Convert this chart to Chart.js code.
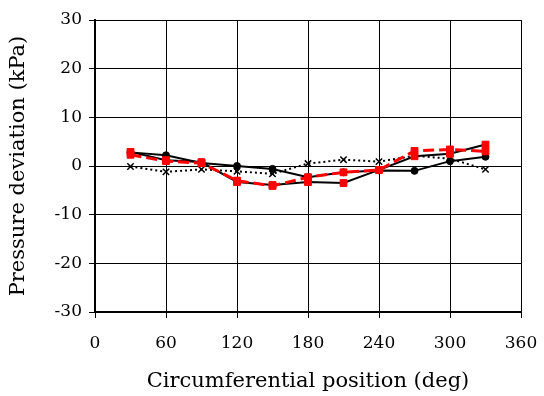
<!DOCTYPE html>
<html>
<head>
<meta charset="utf-8">
<script src="https://cdn.jsdelivr.net/npm/chart.js@4/dist/chart.umd.min.js"></script>
<style>
  html, body { margin: 0; padding: 0; background: #ffffff; }
  #wrap { width: 544px; height: 396px; }
</style>
</head>
<body>
<div id="wrap"><canvas id="c" width="544" height="396"></canvas></div>
<script>
// Circumferential measurement positions (deg)
const positions = [30, 60, 90, 120, 150, 180, 210, 240, 270, 300, 330];

// Pressure deviation (kPa) per case
const caseCircle = [2.8, 2.2, 0.6, 0.0, -0.6, -2.3, -1.3, -0.9, -1.0, 1.0, 1.9];
const caseCross  = [-0.1, -1.2, -0.7, -1.1, -1.6, 0.5, 1.3, 0.9, 2.1, 1.5, -0.7];
const caseRedDash = [2.3, 1.0, 0.6, -3.0, -4.1, -2.3, -1.3, -0.8, 3.1, 3.4, 3.0];
const caseRedSolid = [2.9, 1.2, 0.8, -3.3, -3.9, -3.3, -3.5, -0.8, 2.0, 2.5, 4.4];

// Axis tick values
const xTicks = [0, 60, 120, 180, 240, 300, 360];
const yTicks = [-30, -20, -10, 0, 10, 20, 30];

const pts = ys => positions.map((x, i) => ({ x: x, y: ys[i] }));

const serif = '"DejaVu Serif", "Liberation Serif", serif';

new Chart(document.getElementById('c'), {
  type: 'scatter',
  data: {
    datasets: [
      {
        data: pts(caseRedDash),
        showLine: true,
        borderColor: '#ff0000',
        borderWidth: 3,
        borderDash: [11, 5],
        pointStyle: 'rect',
        pointRadius: 4.8,
        pointBackgroundColor: '#ff0000',
        pointBorderColor: '#ff0000',
        pointBorderWidth: 1
      },
      {
        data: pts(caseRedSolid),
        showLine: true,
        borderColor: '#000000',
        borderWidth: 2,
        pointStyle: 'rect',
        pointRadius: 4.8,
        pointBackgroundColor: '#ff0000',
        pointBorderColor: '#ff0000',
        pointBorderWidth: 1
      },
      {
        data: pts(caseCircle),
        showLine: true,
        borderColor: '#000000',
        borderWidth: 2,
        pointStyle: 'circle',
        pointRadius: 3.5,
        pointBackgroundColor: '#000000',
        pointBorderColor: '#000000',
        pointBorderWidth: 1
      },
      {
        data: pts(caseCross),
        showLine: true,
        borderColor: '#000000',
        borderWidth: 2,
        borderDash: [2, 3],
        pointStyle: 'crossRot',
        pointRadius: 4.5,
        pointBackgroundColor: '#000000',
        pointBorderColor: '#000000',
        pointBorderWidth: 1.5
      }
    ]
  },
  options: {
    responsive: false,
    animation: false,
    layout: { padding: { top: 20, right: 23, bottom: 0, left: 0 } },
    plugins: { legend: { display: false }, tooltip: { enabled: false } },
    scales: {
      x: {
        type: 'linear',
        min: 0, max: 360,
        afterBuildTicks: s => { s.ticks = xTicks.map(v => ({ value: v })); },
        afterFit: s => { s.height = 84; s.paddingLeft = 0; s.paddingRight = 0; },
        ticks: {
          color: '#000000',
          font: { family: serif, size: 17 },
          padding: 15
        },
        grid: {
          color: '#000000',
          lineWidth: 1,
          tickLength: 6,
          drawTicks: true
        },
        border: { color: '#000000', width: 2 },
        title: {
          display: true,
          text: 'Circumferential position (deg)',
          color: '#000000',
          font: { family: serif, size: 21 },
          padding: { top: 0, bottom: 2 }
        }
      },
      y: {
        type: 'linear',
        min: -30, max: 30,
        afterBuildTicks: s => { s.ticks = yTicks.map(v => ({ value: v })); },
        afterFit: s => { s.width = 95; s.paddingTop = 0; s.paddingBottom = 0; },
        ticks: {
          color: '#000000',
          font: { family: serif, size: 17 },
          padding: 7
        },
        grid: {
          color: '#000000',
          lineWidth: 1,
          tickLength: 6,
          drawTicks: true
        },
        border: { color: '#000000', width: 2 },
        title: {
          display: true,
          text: 'Pressure deviation (kPa)',
          color: '#000000',
          font: { family: serif, size: 21 },
          padding: { top: 6, bottom: 0 }
        }
      }
    }
  }
});
</script>
</body>
</html>
